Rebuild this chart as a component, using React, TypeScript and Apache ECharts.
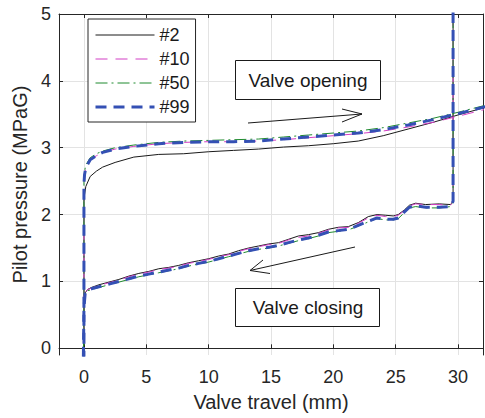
import React, { useEffect, useRef } from "react";
import * as echarts from "echarts";

const seriesNames = ["#2", "#10", "#50", "#99"];

const xTicks = [0, 5, 10, 15, 20, 25, 30];
const yTicks = [0, 1, 2, 3, 4, 5];

// opening branch
const openX = [0, 0, 0.05, 0.15, 0.5, 1, 1.5, 2.5, 4, 6, 8, 10, 12, 14, 16, 18, 20, 22, 24, 26, 28, 30, 32.5];
const open2 = [-0.2, 2.2, 2.3, 2.42, 2.57, 2.65, 2.71, 2.78, 2.86, 2.9, 2.91, 2.94, 2.96, 2.98, 3.01, 3.03, 3.06, 3.1, 3.18, 3.28, 3.38, 3.49, 3.62];
const open10 = [-0.2, 2.45, 2.6, 2.7, 2.82, 2.88, 2.93, 2.98, 3.02, 3.06, 3.08, 3.09, 3.09, 3.1, 3.12, 3.15, 3.18, 3.21, 3.25, 3.31, 3.38, 3.47, 3.59];
const open50 = [-0.2, 2.5, 2.65, 2.74, 2.85, 2.91, 2.95, 3.0, 3.04, 3.08, 3.1, 3.11, 3.12, 3.13, 3.16, 3.19, 3.22, 3.25, 3.3, 3.37, 3.44, 3.53, 3.65];
const open99 = [-0.2, 2.45, 2.6, 2.7, 2.82, 2.88, 2.93, 2.98, 3.02, 3.06, 3.08, 3.09, 3.09, 3.1, 3.13, 3.16, 3.19, 3.22, 3.27, 3.34, 3.42, 3.51, 3.63];

// closing branch
const closeX = [29.6, 29.6, 29.4, 28.5, 27.4, 26.6, 26.1, 25.7, 25.2, 24.8, 24.2, 23.5, 22.8, 22.0, 21.2, 20.4, 19.6, 18.8, 18.0, 17.2, 16.4, 15.6, 14.8, 14.0, 13.2, 12.4, 11.6, 10.8, 10.0, 9.2, 8.4, 7.6, 6.8, 6.0, 5.2, 4.4, 3.6, 2.8, 2.0, 1.2, 0.6, 0.3, 0.1, 0.0, -0.05];
const close2 = [5.3, 2.2, 2.15, 2.16, 2.15, 2.17, 2.14, 2.07, 2.0, 1.98, 1.99, 2.0, 1.97, 1.88, 1.82, 1.81, 1.78, 1.73, 1.7, 1.68, 1.63, 1.58, 1.56, 1.53, 1.5, 1.46, 1.41, 1.38, 1.34, 1.31, 1.28, 1.24, 1.21, 1.19, 1.15, 1.12, 1.08, 1.03, 0.99, 0.95, 0.91, 0.88, 0.83, 0.6, -0.2];
const close10 = [5.3, 2.2, 2.14, 2.15, 2.15, 2.16, 2.13, 2.06, 1.99, 1.97, 1.97, 1.99, 1.95, 1.87, 1.81, 1.8, 1.77, 1.72, 1.68, 1.66, 1.62, 1.57, 1.55, 1.52, 1.49, 1.45, 1.4, 1.37, 1.33, 1.3, 1.27, 1.23, 1.2, 1.18, 1.14, 1.11, 1.07, 1.02, 0.98, 0.94, 0.9, 0.88, 0.83, 0.6, -0.2];
const close50 = [5.3, 2.2, 2.12, 2.1, 2.1, 2.12, 2.1, 2.03, 1.94, 1.92, 1.92, 1.94, 1.89, 1.83, 1.77, 1.75, 1.73, 1.68, 1.64, 1.61, 1.57, 1.53, 1.5, 1.48, 1.45, 1.41, 1.37, 1.33, 1.29, 1.26, 1.23, 1.19, 1.16, 1.13, 1.1, 1.07, 1.03, 0.99, 0.95, 0.91, 0.88, 0.86, 0.81, 0.6, -0.2];
const close99 = [5.3, 2.2, 2.12, 2.11, 2.11, 2.13, 2.11, 2.04, 1.95, 1.93, 1.93, 1.95, 1.9, 1.84, 1.78, 1.76, 1.74, 1.69, 1.65, 1.62, 1.58, 1.54, 1.51, 1.49, 1.46, 1.42, 1.38, 1.34, 1.3, 1.27, 1.24, 1.2, 1.17, 1.14, 1.11, 1.08, 1.04, 1.0, 0.96, 0.92, 0.89, 0.87, 0.82, 0.6, -0.2];

const openSets = [open2, open10, open50, open99];
const closeSets = [close2, close10, close50, close99];

const styles = [
  { color: "#1a1a1a", width: 1, type: "solid" as any },
  { color: "#d23fc4", width: 1, type: [12, 8] as any },
  { color: "#1f8a2e", width: 1, type: [12, 4, 2, 4] as any },
  { color: "#3450b4", width: 3, type: [11, 7] as any },
];

const FONT = "'Liberation Sans', Arial, sans-serif";

export default function App() {
  const ref = useRef<HTMLDivElement>(null);
  useEffect(() => {
    if (!ref.current) return;
    const chart = echarts.init(ref.current, undefined, { renderer: "svg" });
    const series: any[] = [];
    seriesNames.forEach((name, i) => {
      const st = styles[i];
      const common = {
        name,
        type: "line",
        symbol: "none",
        showSymbol: false,
        clip: true,
        lineStyle: { color: st.color, width: st.width, type: st.type },
        itemStyle: { color: st.color },
        z: 3 + i,
      };
      series.push({ ...common, data: openX.map((x, k) => [x, openSets[i][k]]) });
      series.push({ ...common, data: closeX.map((x, k) => [x, closeSets[i][k]]) });
    });
    const axisColor = "#262626";
    const gridColor = "#e3e3e3";
    chart.setOption({
      animation: false,
      grid: { left: 59, right: 2, top: 14, bottom: 63, show: false },
      legend: {
        data: seriesNames.map((name, i) => ({
          name,
          itemStyle: { opacity: 0 },
          lineStyle: { color: styles[i].color, width: styles[i].width, type: styles[i].type },
        })),
        orient: "vertical",
        left: 88,
        top: 19,
        itemWidth: 59,
        itemHeight: 14,
        itemGap: 6,
        padding: [7, 6, 6, 6],
        borderColor: "#262626",
        borderWidth: 1,
        backgroundColor: "#fff",
        itemStyle: { opacity: 0 },
        textStyle: { fontFamily: FONT, fontSize: 18, color: "#1a1a1a" },
      },
      xAxis: [
        {
          type: "value",
          min: -2,
          max: 32,
          position: "bottom",
          name: "Valve travel (mm)",
          nameLocation: "middle",
          nameGap: 37,
          nameTextStyle: { fontFamily: FONT, fontSize: 20, color: axisColor },
          axisLine: { show: true, lineStyle: { color: axisColor, width: 1 } },
          axisTick: { show: true, inside: true, length: 4, customValues: xTicks, lineStyle: { color: axisColor } },
          axisLabel: { customValues: xTicks, fontFamily: FONT, fontSize: 18, color: axisColor, margin: 13 },
          splitLine: { show: true, lineStyle: { color: gridColor, width: 1 } },
        },
        {
          type: "value",
          min: -2,
          max: 32,
          position: "top",
          axisLine: { show: true, onZero: false, lineStyle: { color: axisColor, width: 1 } },
          axisTick: { show: true, inside: true, length: 4, customValues: xTicks, lineStyle: { color: axisColor } },
          axisLabel: { show: false },
          splitLine: { show: false },
        },
      ],
      yAxis: [
        {
          type: "value",
          min: -0.1,
          max: 5,
          position: "left",
          name: "Pilot pressure (MPaG)",
          nameLocation: "middle",
          nameGap: 28,
          nameTextStyle: { fontFamily: FONT, fontSize: 20, color: axisColor },
          axisLine: { show: true, onZero: false, lineStyle: { color: axisColor, width: 1 } },
          axisTick: { show: true, inside: true, length: 4, customValues: yTicks, lineStyle: { color: axisColor } },
          axisLabel: { customValues: yTicks, fontFamily: FONT, fontSize: 18, color: axisColor, margin: 8 },
          splitLine: { show: true, lineStyle: { color: gridColor, width: 1 } },
        },
        {
          type: "value",
          min: -0.1,
          max: 5,
          position: "right",
          axisLine: { show: true, onZero: false, lineStyle: { color: axisColor, width: 1 } },
          axisTick: { show: true, inside: true, length: 4, customValues: yTicks, lineStyle: { color: axisColor } },
          axisLabel: { show: false },
          splitLine: { show: false },
        },
      ],
      series,
      graphic: [
        {
          type: "rect",
          shape: { x: 235.5, y: 60.5, width: 145, height: 39 },
          style: { fill: "#fff", stroke: "#1a1a1a", lineWidth: 1 },
          z: 100,
        },
        {
          type: "text",
          x: 308,
          y: 80,
          style: { text: "Valve opening", fontFamily: FONT, fontSize: 19, fill: "#1a1a1a", align: "center", verticalAlign: "middle" },
          z: 101,
        },
        {
          type: "rect",
          shape: { x: 235.5, y: 288.5, width: 144, height: 38 },
          style: { fill: "#fff", stroke: "#1a1a1a", lineWidth: 1 },
          z: 100,
        },
        {
          type: "text",
          x: 308,
          y: 307,
          style: { text: "Valve closing", fontFamily: FONT, fontSize: 19, fill: "#1a1a1a", align: "center", verticalAlign: "middle" },
          z: 101,
        },
        {
          type: "line",
          shape: { x1: 248, y1: 123, x2: 362, y2: 114 },
          style: { stroke: "#1a1a1a", lineWidth: 1 },
          z: 100,
        },
        {
          type: "polyline",
          shape: { points: [[342, 109], [362, 114], [342, 122]] },
          style: { stroke: "#1a1a1a", lineWidth: 1, fill: null },
          z: 100,
        },
        {
          type: "line",
          shape: { x1: 355, y1: 247, x2: 250, y2: 270.5 },
          style: { stroke: "#1a1a1a", lineWidth: 1 },
          z: 100,
        },
        {
          type: "polyline",
          shape: { points: [[263, 260], [250, 270.5], [270, 273.5]] },
          style: { stroke: "#1a1a1a", lineWidth: 1, fill: null },
          z: 100,
        },
      ],
    });
    return () => chart.dispose();
  }, []);
  return (
    <div
      ref={ref}
      style={{ position: "absolute", left: 0, top: 0, width: 485, height: 418, background: "#fff" }}
    />
  );
}
